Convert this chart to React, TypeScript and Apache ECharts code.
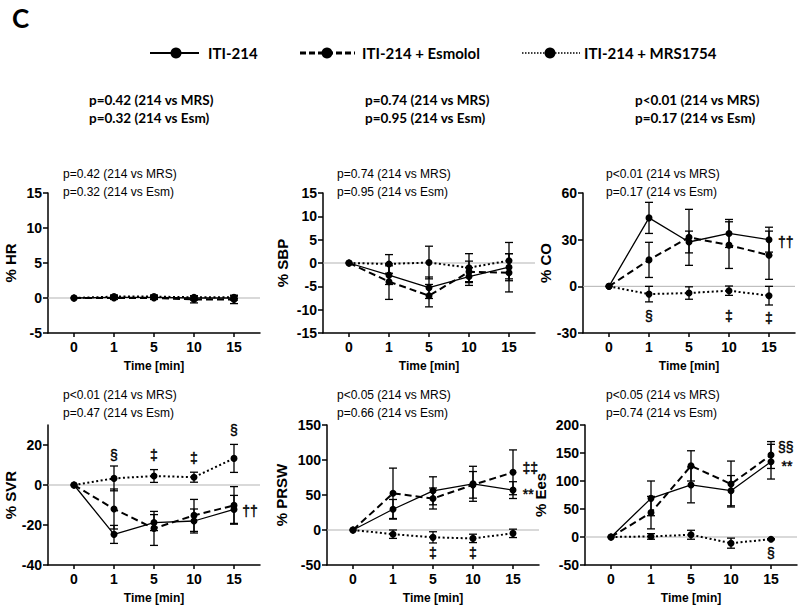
import React, { useEffect, useRef } from 'react';
import * as echarts from 'echarts';

// ---------- data ----------
const timeLabels = ['0', '1', '5', '10', '15'];
const timeIdx = [0, 1, 2, 3, 4];

const hrTicks = [-5, 0, 5, 10, 15];
const hrSolid = [0, 0.1, 0.1, 0, 0];
const hrSolidErr = [0, 0.3, 0.3, 0.3, 0.3];
const hrEsm = [0, 0, 0, -0.2, -0.2];
const hrEsmErr = [0, 0.2, 0.2, 0.5, 0.6];
const hrMrs = [0, 0.2, 0.2, 0.1, 0.1];
const hrMrsErr = [0, 0.2, 0.2, 0.2, 0.2];

const sbpTicks = [-15, -10, -5, 0, 5, 10, 15];
const sbpSolid = [0, -2.6, -5.3, -2.9, -0.9];
const sbpSolidErr = [0, 2.0, 2.3, 1.9, 2.9];
const sbpEsm = [0, -4.0, -7.0, -1.9, -2.1];
const sbpEsmErr = [0, 3.8, 2.4, 2.3, 4.1];
const sbpMrs = [0, -0.2, 0.1, -1.0, 0.5];
const sbpMrsErr = [0, 2.0, 3.5, 3.0, 3.9];

const coTicks = [-30, 0, 30, 60];
const coSolid = [0, 44, 28.5, 34, 30];
const coSolidErr = [0, 10, 7, 9, 8];
const coEsm = [0, 17, 31.5, 26.5, 20];
const coEsmErr = [0, 11.3, 18, 15, 15.5];
const coMrs = [0, -5, -4.3, -2.8, -6];
const coMrsErr = [0, 5, 4, 3, 6];

const svrTicks = [-40, -20, 0, 20];
const svrSolid = [0, -24.7, -18.8, -18, -12.2];
const svrSolidErr = [0, 4.5, 4, 6, 7];
const svrEsm = [0, -12, -21.7, -15.2, -10.2];
const svrEsmErr = [0, 10, 8.5, 8, 9.4];
const svrMrs = [0, 3.3, 4.5, 3.9, 13.3];
const svrMrsErr = [0, 6.2, 3.2, 2.5, 7];

const prswTicks = [-50, 0, 50, 100, 150];
const prswSolid = [0, 29.6, 56, 66, 57];
const prswSolidErr = [0, 14, 20, 25, 12];
const prswEsm = [0, 52.4, 45, 64.5, 82.4];
const prswEsmErr = [0, 36, 15, 19, 32];
const prswMrs = [0, -6, -10.5, -12, -4.8];
const prswMrsErr = [0, 6, 8, 6, 6];

const eesTicks = [-50, 0, 50, 100, 150, 200];
const eesSolid = [0, 69, 93, 82.7, 134.5];
const eesSolidErr = [0, 31, 32, 27, 31];
const eesEsm = [0, 43.5, 127, 94.6, 146.4];
const eesEsmErr = [0, 29, 27, 41, 24];
const eesMrs = [0, 1, 4, -11, -4];
const eesMrsErr = [0, 5, 8, 9, 1];

// annotations: [x position (time index), y value, text]
const hrAnnot: [number, number, string][] = [];
const sbpAnnot: [number, number, string][] = [];
const coAnnot: [number, number, string][] = [
  [4.42, 28.5, '††'], [1, -19, '§'], [3, -19, '‡'], [4, -20.4, '‡'],
];
const svrAnnot: [number, number, string][] = [
  [1, 15, '§'], [2, 15, '‡'], [3, 13.5, '‡'], [4, 27.5, '§'], [4.4, -13, '††'],
];
const prswAnnot: [number, number, string][] = [
  [4.43, 88, '‡‡'], [4.38, 52, '**'], [2, -33, '‡'], [3, -33, '‡'],
];
const eesAnnot: [number, number, string][] = [
  [4.37, 160, '§§'], [4.4, 127, '**'], [4, -29, '§'],
];

const hrP = ['p=0.42 (214 vs MRS)', 'p=0.32 (214 vs Esm)'];
const sbpP = ['p=0.74 (214 vs MRS)', 'p=0.95 (214 vs Esm)'];
const coP = ['p<0.01 (214 vs MRS)', 'p=0.17 (214 vs Esm)'];
const svrP = ['p<0.01 (214 vs MRS)', 'p=0.47 (214 vs Esm)'];
const prswP = ['p<0.05 (214 vs MRS)', 'p=0.66 (214 vs Esm)'];
const eesP = ['p<0.05 (214 vs MRS)', 'p=0.74 (214 vs Esm)'];

const legendNames = ['ITI-214', 'ITI-214 + Esmolol', 'ITI-214 + MRS1754'];

// ---------- layout ----------
const X_MIN = -0.65;
const X_MAX = 4.65;
const GRID_W = 212;
const GRID_H = 140;
const AX_FONT = "'Liberation Sans', Arial, Helvetica, sans-serif";
const CAL_FONT = "Lato, 'Open Sans', sans-serif";

const panels = [
  { yName: '% HR', left: 48, top: 193, ticks: hrTicks, s: hrSolid, se: hrSolidErr, e: hrEsm, ee: hrEsmErr, m: hrMrs, me: hrMrsErr, annot: hrAnnot, p: hrP, nameGap: 30, px: 63, py: 174 },
  { yName: '% SBP', left: 323, top: 193, ticks: sbpTicks, s: sbpSolid, se: sbpSolidErr, e: sbpEsm, ee: sbpEsmErr, m: sbpMrs, me: sbpMrsErr, annot: sbpAnnot, p: sbpP, nameGap: 33, px: 337, py: 174 },
  { yName: '% CO', left: 583, top: 193, ticks: coTicks, s: coSolid, se: coSolidErr, e: coEsm, ee: coEsmErr, m: coMrs, me: coMrsErr, annot: coAnnot, p: coP, nameGap: 30, px: 606, py: 174 },
  { yName: '% SVR', left: 48, top: 425, ticks: svrTicks, s: svrSolid, se: svrSolidErr, e: svrEsm, ee: svrEsmErr, m: svrMrs, me: svrMrsErr, annot: svrAnnot, p: svrP, nameGap: 30, px: 63, py: 395, yMax: 30 },
  { yName: '% PRSW', left: 327, top: 425, ticks: prswTicks, s: prswSolid, se: prswSolidErr, e: prswEsm, ee: prswEsmErr, m: prswMrs, me: prswMrsErr, annot: prswAnnot, p: prswP, nameGap: 38, px: 337, py: 395 },
  { yName: '% Ees', left: 585, top: 425, ticks: eesTicks, s: eesSolid, se: eesSolidErr, e: eesEsm, ee: eesEsmErr, m: eesMrs, me: eesMrsErr, annot: eesAnnot, p: eesP, nameGap: 37, px: 606, py: 395 },
];

function errorBarRender(params: any, api: any) {
  const x = api.value(0);
  const lo = api.coord([x, api.value(1)]);
  const hi = api.coord([x, api.value(2)]);
  const hw = 4;
  const st = { stroke: '#000', lineWidth: 1.3 };
  return {
    type: 'group',
    children: [
      { type: 'line', shape: { x1: lo[0], y1: lo[1], x2: hi[0], y2: hi[1] }, style: st },
      { type: 'line', shape: { x1: lo[0] - hw, y1: lo[1], x2: lo[0] + hw, y2: lo[1] }, style: st },
      { type: 'line', shape: { x1: hi[0] - hw, y1: hi[1], x2: hi[0] + hw, y2: hi[1] }, style: st },
    ],
  };
}

function buildOption() {
  const grid: any[] = [];
  const xAxis: any[] = [];
  const yAxis: any[] = [];
  const series: any[] = [];
  const graphic: any[] = [];

  panels.forEach((pn, i) => {
    grid.push({ left: pn.left, top: pn.top, width: GRID_W, height: GRID_H, containLabel: false });
    xAxis.push({
      gridIndex: i,
      type: 'value',
      min: X_MIN,
      max: X_MAX,
      name: 'Time [min]',
      nameLocation: 'middle',
      nameGap: 27,
      nameTextStyle: { fontFamily: AX_FONT, fontWeight: 'bold', fontSize: 12, color: '#000' },
      axisLine: { show: true, onZero: false, lineStyle: { color: '#000', width: 1.5 } },
      axisTick: { show: true, customValues: timeIdx, length: 4, lineStyle: { color: '#000', width: 1.5 } },
      axisLabel: {
        customValues: timeIdx,
        formatter: (v: number) => timeLabels[Math.round(v)] ?? '',
        fontFamily: AX_FONT,
        fontWeight: 'bold',
        fontSize: 14,
        color: '#000',
        margin: 7,
      },
      splitLine: { show: false },
    });
    const yMin = pn.ticks[0];
    const yMax = (pn as any).yMax ?? pn.ticks[pn.ticks.length - 1];
    yAxis.push({
      gridIndex: i,
      type: 'value',
      min: yMin,
      max: yMax,
      name: pn.yName,
      nameLocation: 'middle',
      nameGap: pn.nameGap,
      nameTextStyle: { fontFamily: AX_FONT, fontWeight: 'bold', fontSize: 15, color: '#000' },
      axisLine: { show: true, onZero: false, lineStyle: { color: '#000', width: 1.5 } },
      axisTick: { show: true, customValues: pn.ticks, length: 5, lineStyle: { color: '#000', width: 1.5 } },
      axisLabel: {
        customValues: pn.ticks,
        fontFamily: AX_FONT,
        fontWeight: 'bold',
        fontSize: 14,
        color: '#000',
        margin: 6,
      },
      splitLine: { show: false },
    });

    // zero reference line
    series.push({
      type: 'line',
      xAxisIndex: i,
      yAxisIndex: i,
      data: [[X_MIN, 0], [X_MAX, 0]],
      symbol: 'none',
      lineStyle: { color: '#b3b3b3', width: 1 },
      silent: true,
      z: 1,
    });

    const groups = [
      { v: pn.s, err: pn.se, type: 'solid', width: 1.3, name: legendNames[0] },
      { v: pn.e, err: pn.ee, type: [7, 4], width: 2, name: legendNames[1] },
      { v: pn.m, err: pn.me, type: [2, 2.5], width: 2, name: legendNames[2] },
    ];
    groups.forEach((g) => {
      const errData = timeIdx
        .filter((t) => g.err[t] > 0)
        .map((t) => [t, g.v[t] - g.err[t], g.v[t] + g.err[t]]);
      series.push({
        type: 'custom',
        xAxisIndex: i,
        yAxisIndex: i,
        renderItem: errorBarRender,
        encode: { x: 0, y: [1, 2] },
        data: errData,
        silent: true,
        clip: false,
        z: 2,
      });
      series.push({
        type: 'line',
        name: g.name,
        xAxisIndex: i,
        yAxisIndex: i,
        data: timeIdx.map((t) => [t, g.v[t]]),
        symbol: 'circle',
        symbolSize: 7,
        showAllSymbol: true,
        itemStyle: { color: '#000' },
        lineStyle: { color: '#000', width: g.width, type: g.type },
        z: 3,
      });
    });

    if (pn.annot.length) {
      series.push({
        type: 'custom',
        xAxisIndex: i,
        yAxisIndex: i,
        data: pn.annot.map((a) => [a[0], a[1]]),
        encode: { x: 0, y: 1 },
        renderItem: (params: any, api: any) => {
          const p = api.coord([api.value(0), api.value(1)]);
          const txt = pn.annot[params.dataIndex][2];
          return {
            type: 'text',
            x: p[0],
            y: p[1],
            style: {
              text: txt,
              fill: '#000',
              stroke: '#000',
              lineWidth: 0.4,
              font: `14px ${AX_FONT}`,
              align: 'center',
              verticalAlign: 'middle',
              textAlign: 'center',
              textVerticalAlign: 'middle',
            },
          };
        },
        silent: true,
        clip: false,
        z: 4,
      });
    }

    // p-values inside panel
    pn.p.forEach((t, k) => {
      graphic.push({
        type: 'text',
        x: pn.px,
        y: pn.py + k * 18,
        style: {
          text: t,
          fill: '#000',
          font: `12px ${AX_FONT}`,
          align: 'left',
          verticalAlign: 'middle',
          textAlign: 'left',
          textVerticalAlign: 'middle',
        },
      });
    });
  });

  // panel letter
  graphic.push({
    type: 'text',
    x: 12,
    y: 18,
    style: { text: 'C', fill: '#000', font: `bold 26px ${CAL_FONT}`, align: 'left', verticalAlign: 'middle', textAlign: 'left', textVerticalAlign: 'middle' },
  });

  // legend
  const legY = 53;
  const legItems = [
    { x1: 150, x2: 199, cx: 176, tx: 208, dash: null as any, lw: 2 },
    { x1: 300, x2: 355, cx: 327, tx: 362, dash: [6, 3], lw: 3 },
    { x1: 522, x2: 580, cx: 550, tx: 584, dash: [1.5, 1.5], lw: 1.5 },
  ];
  legItems.forEach((it, k) => {
    graphic.push({
      type: 'line',
      shape: { x1: it.x1, y1: legY, x2: it.x2, y2: legY },
      style: { stroke: '#000', lineWidth: it.lw, lineDash: it.dash || undefined },
    });
    graphic.push({ type: 'circle', shape: { cx: it.cx, cy: legY, r: 5.5 }, style: { fill: '#000' } });
    graphic.push({
      type: 'text',
      x: it.tx,
      y: legY,
      style: { text: legendNames[k], fill: '#000', font: `bold 15px ${CAL_FONT}`, align: 'left', verticalAlign: 'middle', textAlign: 'left', textVerticalAlign: 'middle' },
    });
  });

  // top p-values summary
  const topPX = [89, 365, 635];
  [hrP, sbpP, coP].forEach((pp, c) => {
    pp.forEach((t, k) => {
      graphic.push({
        type: 'text',
        x: topPX[c],
        y: 100 + k * 18,
        style: { text: t, fill: '#000', font: `bold 13.5px ${CAL_FONT}`, align: 'left', verticalAlign: 'middle', textAlign: 'left', textVerticalAlign: 'middle' },
      });
    });
  });

  return {
    animation: false,
    backgroundColor: '#fff',
    grid,
    xAxis,
    yAxis,
    series,
    graphic,
  };
}

export default function App() {
  const ref = useRef<HTMLDivElement>(null);
  useEffect(() => {
    if (!ref.current) return;
    const chart = echarts.init(ref.current, null, { renderer: 'svg' });
    chart.setOption(buildOption() as any);
    return () => chart.dispose();
  }, []);
  return (
    <div
      ref={ref}
      style={{ position: 'fixed', left: 0, top: 0, width: 800, height: 607, background: '#fff' }}
    />
  );
}
